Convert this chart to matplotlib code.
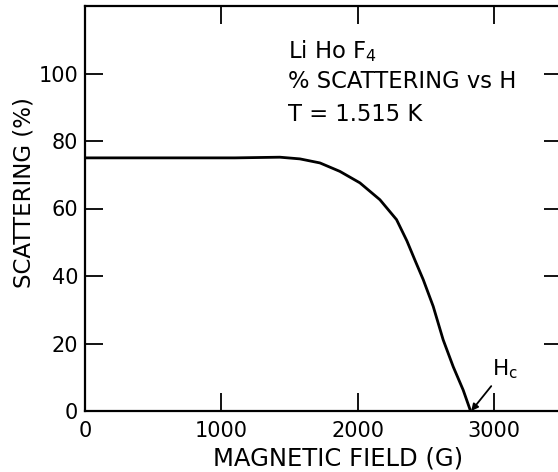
import numpy as np
import matplotlib
matplotlib.use("Agg")
import matplotlib.pyplot as plt

plt.rcParams['font.family'] = ['DejaVu Sans']
plt.rcParams['mathtext.fontset'] = 'dejavusans'

# values
field = [0, 400, 800, 1100, 1430, 1577, 1724, 1870, 2017, 2164, 2286, 2362, 2425,
         2482, 2555, 2628, 2702, 2775, 2829]
scattering = [75, 75, 75, 75, 75.2, 74.7, 73.5, 71.0, 67.6, 62.6, 56.7, 50.4, 44.3,
              38.9, 31.0, 21.1, 13.1, 6.2, 0]
x_ticks = [0, 1000, 2000, 3000]
y_ticks = [0, 20, 40, 60, 80, 100]
h_c = 2829

fig = plt.figure(figsize=(5.58, 4.72), dpi=100)
ax = fig.add_axes([85 / 558, 61 / 472, 477 / 558, 405 / 472])

ax.plot(field, scattering, color='black', lw=2)

ax.set_xlim(0, 3500)
ax.set_ylim(0, 120)
ax.set_xticks(x_ticks)
ax.set_yticks(y_ticks)
ax.tick_params(direction='in', length=13, width=1.3, labelsize=15,
               top=True, right=True, pad=5)
ax.tick_params(axis='x', pad=7)
for s in ax.spines.values():
    s.set_linewidth(1.6)

ax.set_xlabel('MAGNETIC FIELD (G)', fontsize=17.5)
ax.xaxis.set_label_coords(0.53, -0.088)
ax.set_ylabel('SCATTERING (%)', fontsize=16.5)
ax.yaxis.set_label_coords(-0.103, 0.54)

ax.text(1489, 104.7, 'Li Ho F$_{\\mathregular{4}}$', fontsize=16.3, va='baseline')
ax.text(1489, 95.8, '% SCATTERING vs H', fontsize=16.3, va='baseline')
ax.text(1489, 86.0, 'T = 1.515 K', fontsize=16.3, va='baseline')

ax.annotate('H$_{\\mathregular{c}}$', xy=(h_c + 5, 0), xytext=(2985, 10.5),
            fontsize=15.5, va='baseline',
            arrowprops=dict(arrowstyle='-|>', color='black', lw=1.3,
                            shrinkA=2, shrinkB=0, mutation_scale=10))

fig.savefig('out.png', dpi=100)
